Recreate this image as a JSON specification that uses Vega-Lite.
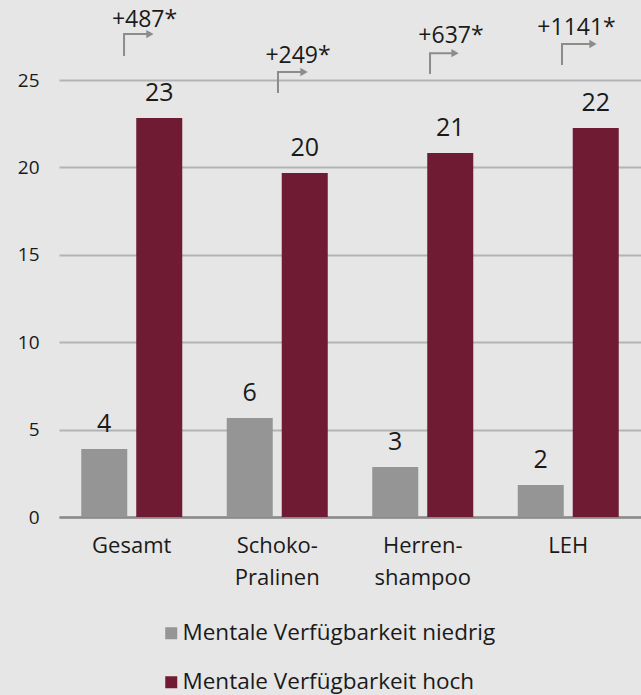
{
  "$schema": "https://vega.github.io/schema/vega-lite/v6.json",
  "width": 582,
  "height": 517,
  "autosize": {"type": "none"},
  "padding": {"left": 59, "top": 0, "right": 0, "bottom": 178},
  "background": "#e6e6e6",
  "config": {
    "view": {"stroke": null},
    "font": "Open Sans",
    "text": {"font": "Open Sans"}
  },
  "datasets": {
    "bars": [
      {"kategorie": "Gesamt", "gruppe": "Mentale Verfügbarkeit niedrig", "wert": 3.89},
      {"kategorie": "Gesamt", "gruppe": "Mentale Verfügbarkeit hoch", "wert": 22.83},
      {"kategorie": "Schoko- Pralinen", "gruppe": "Mentale Verfügbarkeit niedrig", "wert": 5.66},
      {"kategorie": "Schoko- Pralinen", "gruppe": "Mentale Verfügbarkeit hoch", "wert": 19.68},
      {"kategorie": "Herren- shampoo", "gruppe": "Mentale Verfügbarkeit niedrig", "wert": 2.86},
      {"kategorie": "Herren- shampoo", "gruppe": "Mentale Verfügbarkeit hoch", "wert": 20.82},
      {"kategorie": "LEH", "gruppe": "Mentale Verfügbarkeit niedrig", "wert": 1.83},
      {"kategorie": "LEH", "gruppe": "Mentale Verfügbarkeit hoch", "wert": 22.25}
    ],
    "arrows": [
      {"g": "a", "s": 1, "ax": 0.447, "ay": 26.37},
      {"g": "a", "s": 2, "ax": 0.447, "ay": 27.63},
      {"g": "a", "s": 3, "ax": 0.625, "ay": 27.63},
      {"g": "b", "s": 1, "ax": 1.505, "ay": 24.26},
      {"g": "b", "s": 2, "ax": 1.505, "ay": 25.46},
      {"g": "b", "s": 3, "ax": 1.684, "ay": 25.46},
      {"g": "c", "s": 1, "ax": 2.55, "ay": 25.34},
      {"g": "c", "s": 2, "ax": 2.55, "ay": 26.54},
      {"g": "c", "s": 3, "ax": 2.722, "ay": 26.54},
      {"g": "d", "s": 1, "ax": 3.457, "ay": 25.86},
      {"g": "d", "s": 2, "ax": 3.457, "ay": 27.06},
      {"g": "d", "s": 3, "ax": 3.67, "ay": 27.06}
    ],
    "notes": [
      {"txt": "+487*", "nx": 0.588, "ny": 28.03},
      {"txt": "+249*", "nx": 1.643, "ny": 25.97},
      {"txt": "+637*", "nx": 2.694, "ny": 27.12},
      {"txt": "+1141*", "nx": 3.557, "ny": 27.57}
    ]
  },
  "layer": [
    {
      "data": {"name": "bars"},
      "encoding": {
        "x": {
          "field": "kategorie",
          "type": "nominal",
          "sort": null,
          "scale": {"paddingInner": 0, "paddingOuter": 0},
          "axis": {
            "title": null,
            "labelAngle": 0,
            "ticks": false,
            "labelPadding": 18,
            "labelFontSize": 22,
            "labelColor": "#1a1a1a",
            "labelLineHeight": 32,
            "labelExpr": "split(datum.label, ' ')",
            "domainColor": "#8a8a8a",
            "domainWidth": 2.5
          }
        },
        "xOffset": {
          "field": "gruppe",
          "type": "nominal",
          "sort": ["Mentale Verfügbarkeit niedrig", "Mentale Verfügbarkeit hoch"],
          "scale": {"paddingInner": 0.1636, "paddingOuter": 0.4045}
        },
        "y": {
          "field": "wert",
          "type": "quantitative",
          "scale": {"domain": [0, 29.58], "nice": false},
          "axis": {
            "title": null,
            "values": [0, 5, 10, 15, 20, 25],
            "domain": false,
            "ticks": false,
            "labelPadding": 20,
            "labelFontSize": 19,
            "labelColor": "#1a1a1a",
            "gridColor": "#b3b3b3",
            "gridWidth": 2
          }
        }
      },
      "layer": [
        {
          "mark": {"type": "bar"},
          "encoding": {
            "color": {
              "field": "gruppe",
              "type": "nominal",
              "sort": ["Mentale Verfügbarkeit niedrig", "Mentale Verfügbarkeit hoch"],
              "scale": {
                "domain": ["Mentale Verfügbarkeit niedrig", "Mentale Verfügbarkeit hoch"],
                "range": ["#959595", "#6f1b33"]
              },
              "legend": {
                "title": null,
                "orient": "none",
                "direction": "vertical",
                "legendX": 101,
                "legendY": 622,
                "padding": 0,
                "symbolType": "square",
                "symbolSize": 144,
                "symbolStrokeWidth": 0,
                "labelFontSize": 22.5,
                "labelColor": "#1a1a1a",
                "labelOffset": 0,
                "labelLimit": 500,
                "rowPadding": 26
              }
            }
          }
        },
        {
          "mark": {"type": "text", "baseline": "alphabetic", "dy": -17, "fontSize": 25, "color": "#1a1a1a"},
          "encoding": {
            "text": {"field": "wert", "type": "quantitative", "format": ".0f"}
          }
        }
      ]
    },
    {
      "data": {"name": "arrows"},
      "mark": {"type": "line", "color": "#8c8c8c", "strokeWidth": 2},
      "encoding": {
        "x": {"field": "ax", "type": "quantitative", "scale": {"domain": [0, 4], "nice": false, "zero": false}, "axis": null},
        "y": {"field": "ay", "type": "quantitative", "scale": {"domain": [0, 29.58], "nice": false}, "axis": null},
        "detail": {"field": "g"},
        "order": {"field": "s"}
      }
    },
    {
      "data": {"name": "arrows"},
      "transform": [{"filter": "datum.s == 3"}],
      "mark": {"type": "point", "shape": "triangle-right", "filled": true, "size": 70, "color": "#8c8c8c", "opacity": 1, "strokeWidth": 0},
      "encoding": {
        "x": {"field": "ax", "type": "quantitative", "scale": {"domain": [0, 4], "nice": false, "zero": false}, "axis": null},
        "y": {"field": "ay", "type": "quantitative", "scale": {"domain": [0, 29.58], "nice": false}, "axis": null}
      }
    },
    {
      "data": {"name": "notes"},
      "mark": {"type": "text", "baseline": "alphabetic", "fontSize": 23, "color": "#1a1a1a"},
      "encoding": {
        "x": {"field": "nx", "type": "quantitative", "scale": {"domain": [0, 4], "nice": false, "zero": false}, "axis": null},
        "y": {"field": "ny", "type": "quantitative", "scale": {"domain": [0, 29.58], "nice": false}, "axis": null},
        "text": {"field": "txt"}
      }
    }
  ],
  "resolve": {"scale": {"x": "independent"}, "axis": {"y": "independent"}}
}
